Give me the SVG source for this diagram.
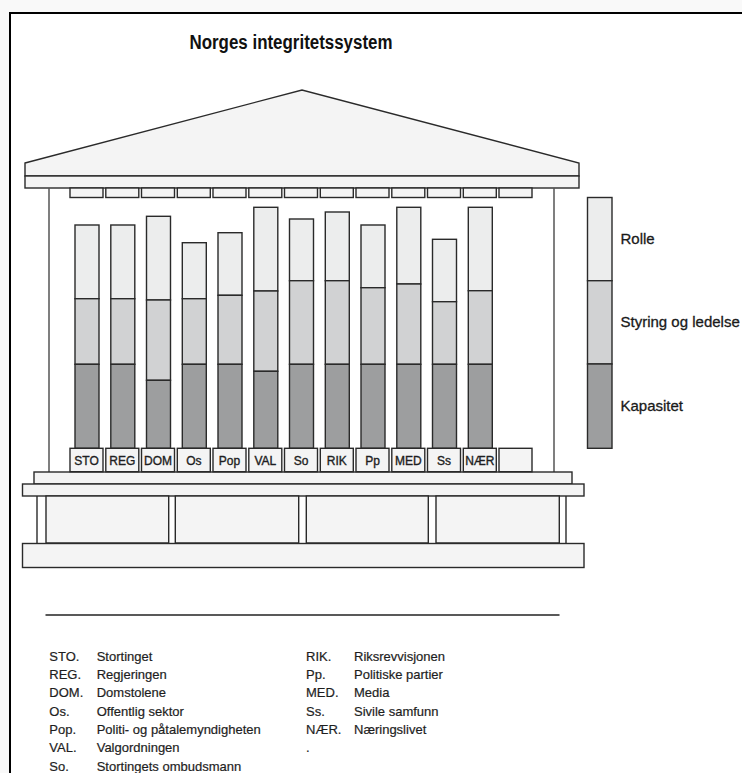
<svg xmlns="http://www.w3.org/2000/svg" width="742" height="773" viewBox="0 0 742 773">
<style>
.ln{stroke:#2a2a2a;stroke-width:1.4;}
.lt{fill:#f4f4f4;}
.c1{fill:#eceded;}
.c2{fill:#d1d2d3;}
.c3{fill:#9d9e9f;}
.wall{stroke:#555;stroke-width:1.5;fill:none;}
.lab{font-family:"Liberation Sans",Arial,sans-serif;font-size:12px;fill:#1e1e22;stroke:#1e1e22;stroke-width:0.35;text-anchor:middle;}
.leg{font-family:"Liberation Sans",Arial,sans-serif;font-size:15px;fill:#1a1a1a;stroke:#1a1a1a;stroke-width:0.3;}
.txt{font-family:"Liberation Sans",Arial,sans-serif;font-size:13px;fill:#1e1e1e;stroke:#1e1e1e;stroke-width:0.2;}
</style>
<rect x="0" y="0" width="742" height="773" fill="#f9f9f9"/>
<rect x="10" y="13" width="740" height="770" fill="#fff"/>
<path d="M10,773 V13 H742" fill="none" stroke="#000" stroke-width="2"/>

<text x="291" y="49" text-anchor="middle" font-family="'Liberation Sans Narrow','Liberation Sans',Arial,sans-serif" font-size="19.5" font-weight="bold" fill="#111" textLength="203" lengthAdjust="spacingAndGlyphs">Norges integritetssystem</text>

<g id="temple">
  <polygon class="lt ln" points="25,163 302,90 579,163 579,176 25,176"/>
  <rect class="lt ln" x="25" y="176" width="554" height="12"/>
  <line class="wall" x1="49" y1="188" x2="49" y2="472"/>
  <line class="wall" x1="554" y1="188" x2="554" y2="472"/>
  <g id="frieze">
    <rect class="lt ln" x="70" y="188" width="33" height="9.5"/>
    <rect class="lt ln" x="105.8" y="188" width="33" height="9.5"/>
    <rect class="lt ln" x="141.5" y="188" width="33" height="9.5"/>
    <rect class="lt ln" x="177.3" y="188" width="33" height="9.5"/>
    <rect class="lt ln" x="213" y="188" width="33" height="9.5"/>
    <rect class="lt ln" x="248.8" y="188" width="33" height="9.5"/>
    <rect class="lt ln" x="284.5" y="188" width="33" height="9.5"/>
    <rect class="lt ln" x="320.3" y="188" width="33" height="9.5"/>
    <rect class="lt ln" x="356" y="188" width="33" height="9.5"/>
    <rect class="lt ln" x="391.8" y="188" width="33" height="9.5"/>
    <rect class="lt ln" x="427.5" y="188" width="33" height="9.5"/>
    <rect class="lt ln" x="463.3" y="188" width="33" height="9.5"/>
    <rect class="lt ln" x="499" y="188" width="33" height="9.5"/>
  </g>
  <rect class="lt ln" x="34" y="472" width="538" height="12"/>
  <rect class="lt ln" x="22.5" y="484" width="561.5" height="12"/>
  <line class="ln" x1="37" y1="496" x2="37" y2="543"/>
  <line class="ln" x1="566" y1="496" x2="566" y2="543"/>
  <rect class="lt ln" x="46" y="496" width="122.7" height="47"/>
  <rect class="lt ln" x="175.3" y="496" width="123.4" height="47"/>
  <rect class="lt ln" x="306.3" y="496" width="122" height="47"/>
  <rect class="lt ln" x="436" y="496" width="123.3" height="47"/>
  <rect class="lt ln" x="22.5" y="543.5" width="561.5" height="24"/>
</g>

<g id="col-STO">
  <rect class="c1 ln" x="75" y="225" width="24" height="73.7"/>
  <rect class="c2 ln" x="75" y="298.7" width="24" height="65.6"/>
  <rect class="c3 ln" x="75" y="364.3" width="24" height="84"/>
  <rect class="lt ln" x="70" y="448.3" width="33" height="23.4"/>
  <text class="lab" x="86.5" y="464.5">STO</text>
</g>
<g id="col-REG">
  <rect class="c1 ln" x="110.8" y="225" width="24" height="73.7"/>
  <rect class="c2 ln" x="110.8" y="298.7" width="24" height="65.6"/>
  <rect class="c3 ln" x="110.8" y="364.3" width="24" height="84"/>
  <rect class="lt ln" x="105.8" y="448.3" width="33" height="23.4"/>
  <text class="lab" x="122.3" y="464.5">REG</text>
</g>
<g id="col-DOM">
  <rect class="c1 ln" x="146.5" y="216.3" width="24" height="83.7"/>
  <rect class="c2 ln" x="146.5" y="300" width="24" height="80.3"/>
  <rect class="c3 ln" x="146.5" y="380.3" width="24" height="68"/>
  <rect class="lt ln" x="141.5" y="448.3" width="33" height="23.4"/>
  <text class="lab" x="158" y="464.5">DOM</text>
</g>
<g id="col-Os">
  <rect class="c1 ln" x="182.3" y="242.7" width="24" height="56"/>
  <rect class="c2 ln" x="182.3" y="298.7" width="24" height="65.6"/>
  <rect class="c3 ln" x="182.3" y="364.3" width="24" height="84"/>
  <rect class="lt ln" x="177.3" y="448.3" width="33" height="23.4"/>
  <text class="lab" x="193.8" y="464.5">Os</text>
</g>
<g id="col-Pop">
  <rect class="c1 ln" x="218" y="232.7" width="24" height="62.6"/>
  <rect class="c2 ln" x="218" y="295.3" width="24" height="69"/>
  <rect class="c3 ln" x="218" y="364.3" width="24" height="84"/>
  <rect class="lt ln" x="213" y="448.3" width="33" height="23.4"/>
  <text class="lab" x="229.5" y="464.5">Pop</text>
</g>
<g id="col-VAL">
  <rect class="c1 ln" x="253.8" y="207.3" width="24" height="83.7"/>
  <rect class="c2 ln" x="253.8" y="291" width="24" height="80.3"/>
  <rect class="c3 ln" x="253.8" y="371.3" width="24" height="77"/>
  <rect class="lt ln" x="248.8" y="448.3" width="33" height="23.4"/>
  <text class="lab" x="265.3" y="464.5">VAL</text>
</g>
<g id="col-So">
  <rect class="c1 ln" x="289.5" y="219" width="24" height="61.7"/>
  <rect class="c2 ln" x="289.5" y="280.7" width="24" height="83.6"/>
  <rect class="c3 ln" x="289.5" y="364.3" width="24" height="84"/>
  <rect class="lt ln" x="284.5" y="448.3" width="33" height="23.4"/>
  <text class="lab" x="301" y="464.5">So</text>
</g>
<g id="col-RIK">
  <rect class="c1 ln" x="325.3" y="212" width="24" height="68.7"/>
  <rect class="c2 ln" x="325.3" y="280.7" width="24" height="83.6"/>
  <rect class="c3 ln" x="325.3" y="364.3" width="24" height="84"/>
  <rect class="lt ln" x="320.3" y="448.3" width="33" height="23.4"/>
  <text class="lab" x="336.8" y="464.5">RIK</text>
</g>
<g id="col-Pp">
  <rect class="c1 ln" x="361" y="225" width="24" height="62.7"/>
  <rect class="c2 ln" x="361" y="287.7" width="24" height="76.6"/>
  <rect class="c3 ln" x="361" y="364.3" width="24" height="84"/>
  <rect class="lt ln" x="356" y="448.3" width="33" height="23.4"/>
  <text class="lab" x="372.5" y="464.5">Pp</text>
</g>
<g id="col-MED">
  <rect class="c1 ln" x="396.8" y="207.3" width="24" height="76.7"/>
  <rect class="c2 ln" x="396.8" y="284" width="24" height="80.3"/>
  <rect class="c3 ln" x="396.8" y="364.3" width="24" height="84"/>
  <rect class="lt ln" x="391.8" y="448.3" width="33" height="23.4"/>
  <text class="lab" x="408.3" y="464.5">MED</text>
</g>
<g id="col-Ss">
  <rect class="c1 ln" x="432.5" y="239.3" width="24" height="62.4"/>
  <rect class="c2 ln" x="432.5" y="301.7" width="24" height="62.6"/>
  <rect class="c3 ln" x="432.5" y="364.3" width="24" height="84"/>
  <rect class="lt ln" x="427.5" y="448.3" width="33" height="23.4"/>
  <text class="lab" x="444" y="464.5">Ss</text>
</g>
<g id="col-NAER">
  <rect class="c1 ln" x="468.3" y="207.3" width="24" height="83.4"/>
  <rect class="c2 ln" x="468.3" y="290.7" width="24" height="73.6"/>
  <rect class="c3 ln" x="468.3" y="364.3" width="24" height="84"/>
  <rect class="lt ln" x="463.3" y="448.3" width="33" height="23.4"/>
  <text class="lab" x="479.8" y="464.5">NÆR</text>
</g>
<g id="col-empty">
  <rect class="lt ln" x="499" y="448.3" width="33" height="23.4"/>
</g>

<g id="legend-bar">
  <rect class="c1 ln" x="587.5" y="197.5" width="24.5" height="83.2"/>
  <rect class="c2 ln" x="587.5" y="280.7" width="24.5" height="83.3"/>
  <rect class="c3 ln" x="587.5" y="364" width="24.5" height="84.3"/>
  <text class="leg" x="620.5" y="243.5">Rolle</text>
  <text class="leg" x="620.5" y="327">Styring og ledelse</text>
  <text class="leg" x="620.5" y="410.5">Kapasitet</text>
</g>

<line x1="45.5" y1="615" x2="559.5" y2="615" stroke="#222" stroke-width="1.4"/>

<g id="abbreviations">
  <text class="txt" x="49.3" y="660.8">STO.</text>
  <text class="txt" x="96.7" y="660.8">Stortinget</text>
  <text class="txt" x="49.3" y="679">REG.</text>
  <text class="txt" x="96.7" y="679">Regjeringen</text>
  <text class="txt" x="49.3" y="697.3">DOM.</text>
  <text class="txt" x="96.7" y="697.3">Domstolene</text>
  <text class="txt" x="49.3" y="715.6">Os.</text>
  <text class="txt" x="96.7" y="715.6">Offentlig sektor</text>
  <text class="txt" x="49.3" y="733.9">Pop.</text>
  <text class="txt" x="96.7" y="733.9">Politi- og påtalemyndigheten</text>
  <text class="txt" x="49.3" y="752.2">VAL.</text>
  <text class="txt" x="96.7" y="752.2">Valgordningen</text>
  <text class="txt" x="49.3" y="770.5">So.</text>
  <text class="txt" x="96.7" y="770.5">Stortingets ombudsmann</text>
  <text class="txt" x="306" y="660.8">RIK.</text>
  <text class="txt" x="354" y="660.8">Riksrevvisjonen</text>
  <text class="txt" x="306" y="679">Pp.</text>
  <text class="txt" x="354" y="679">Politiske partier</text>
  <text class="txt" x="306" y="697.3">MED.</text>
  <text class="txt" x="354" y="697.3">Media</text>
  <text class="txt" x="306" y="715.6">Ss.</text>
  <text class="txt" x="354" y="715.6">Sivile samfunn</text>
  <text class="txt" x="306" y="733.9">NÆR.</text>
  <text class="txt" x="354" y="733.9">Næringslivet</text>
  <text class="txt" x="306" y="752.2">.</text>
</g>
</svg>
